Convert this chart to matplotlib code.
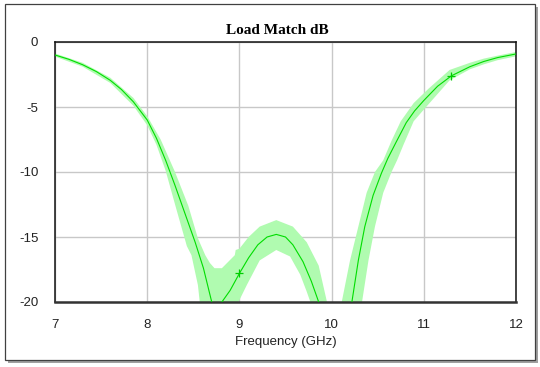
import numpy as np
import matplotlib
matplotlib.use("Agg")
import matplotlib.pyplot as plt
from matplotlib.patches import Rectangle

# measured load match (dB) vs frequency (GHz)
freq = [7.0, 7.15, 7.3, 7.45, 7.6, 7.72, 7.85, 8.0, 8.1, 8.2, 8.3, 8.41, 8.52,
        8.61, 8.70, 8.75, 8.81, 8.90, 9.0, 9.1, 9.2, 9.3, 9.4, 9.5, 9.58, 9.69,
        9.78, 9.86, 9.95, 10.05, 10.15, 10.22, 10.29, 10.36, 10.45, 10.54, 10.61,
        10.7, 10.81, 10.9, 11.0, 11.15, 11.3, 11.5, 11.65, 11.8, 12.0]
match_db = [-1.0, -1.33, -1.75, -2.28, -2.95, -3.65, -4.6, -6.0, -7.4, -9.1, -11.0,
            -13.2, -15.4, -17.4, -20.0, -20.3, -20.0, -19.1, -17.8, -16.6, -15.6,
            -15.0, -14.8, -15.0, -15.6, -16.9, -18.4, -20.0, -23.0, -28.0, -23.0,
            -20.0, -16.8, -14.2, -11.8, -10.1, -8.95, -7.7, -6.2, -5.3, -4.5, -3.4,
            -2.6, -1.9, -1.5, -1.2, -0.92]

# tolerance band edges
upper_freq = [7.0, 7.3, 7.6, 7.85, 8.0, 8.146, 8.30, 8.446, 8.55, 8.63, 8.68, 8.73,
              8.81, 8.88, 8.95, 8.96, 9.0, 9.1, 9.22, 9.40, 9.58, 9.73, 9.86, 9.95,
              10.03, 10.11, 10.2, 10.29, 10.38, 10.47, 10.56, 10.65, 10.75, 10.89,
              11.05, 11.28, 11.5, 11.65, 11.8, 12.0]
upper_db = [-0.88, -1.6, -2.75, -4.3, -5.7, -7.5, -9.97, -12.6, -15.1, -16.4, -17.0,
            -17.4, -17.4, -16.9, -16.4, -16.0, -15.9, -15.0, -14.2, -13.7, -14.2,
            -15.4, -17.2, -20.0, -24.0, -20.0, -16.8, -14.2, -11.6, -10.0, -9.1,
            -7.6, -6.1, -4.7, -3.6, -2.15, -1.6, -1.28, -1.05, -0.77]
lower_freq = [7.0, 7.3, 7.6, 7.85, 8.0, 8.1, 8.2, 8.31, 8.43, 8.48, 8.55, 8.57,
              8.7, 8.85, 8.99, 9.08, 9.22, 9.40, 9.55, 9.66, 9.73, 9.77, 9.9, 10.1,
              10.25, 10.33, 10.40, 10.47, 10.56, 10.65, 10.71, 10.78, 10.89, 11.0,
              11.28, 11.5, 11.65, 11.8, 12.0]
lower_db = [-1.12, -1.9, -3.15, -4.9, -6.4, -7.9, -9.9, -12.7, -15.7, -16.4, -18.7,
            -20.0, -21.5, -21.5, -20.0, -18.7, -16.8, -16.0, -16.5, -17.9, -19.2,
            -20.0, -26.0, -30.0, -24.0, -20.0, -16.8, -14.2, -11.6, -10.0, -9.1,
            -7.9, -6.1, -5.2, -2.95, -2.1, -1.72, -1.4, -1.1]

# marker positions on the trace
marker_freq = [9.0, 11.3]
marker_db = [-17.8, -2.6]

xticks = [7, 8, 9, 10, 11, 12]
yticks = [0, -5, -10, -15, -20]

fig = plt.figure(figsize=(5.4, 3.67), dpi=100)
fig.patch.set_facecolor("white")

# outer frame with a drop shadow
fig.patches.append(Rectangle((8 / 540, 1 - 363 / 367), 530 / 540, 356 / 367,
                             transform=fig.transFigure, facecolor="#a0a0a0",
                             edgecolor="none", zorder=-3))
fig.patches.append(Rectangle((5 / 540, 1 - 360 / 367), 530 / 540, 356 / 367,
                             transform=fig.transFigure, facecolor="white",
                             edgecolor="#404040", linewidth=0.9, zorder=-2))

ax = fig.add_axes([55 / 540, 1 - 302 / 367, 461 / 540, 260 / 367])
ax.set_facecolor("white")

band_x = np.concatenate([upper_freq, lower_freq[::-1]])
band_y = np.concatenate([upper_db, lower_db[::-1]])
ax.fill(band_x, band_y, color="#b0fbb0", linewidth=0, zorder=2)
ax.plot(freq, match_db, color="#00dd00", linewidth=0.8, zorder=3)
ax.plot(marker_freq, marker_db, linestyle="none", marker="+", markersize=5.5,
        markeredgewidth=0.9, color="#00cc00", zorder=4)

ax.set_xlim(7, 12)
ax.set_ylim(-20, 0)
ax.set_xticks(xticks)
ax.set_yticks(yticks)
ax.set_xticklabels([str(t) for t in xticks], fontfamily="Liberation Sans", fontsize=9.5)
ax.set_yticklabels([str(t) for t in yticks], fontfamily="Liberation Sans", fontsize=9.5)
ax.tick_params(length=0, pad=12, colors="#222222")
ax.grid(True, color="#c8c8c8", linewidth=1.0, zorder=1)
ax.set_axisbelow(True)

for side in ["left", "top", "right"]:
    ax.spines[side].set_linewidth(1.1)
    ax.spines[side].set_color("#111111")
ax.spines["bottom"].set_linewidth(1.8)
ax.spines["bottom"].set_color("#333333")

ax.set_xlabel("Frequency (GHz)", fontfamily="Liberation Sans", fontsize=9.5,
              labelpad=4, color="#222222")
fig.text(277 / 540, 1 - 30 / 367, "Load Match dB", ha="center", va="center",
         fontfamily="Liberation Serif", fontweight="bold", fontsize=11)

fig.savefig("out.png", dpi=100)
